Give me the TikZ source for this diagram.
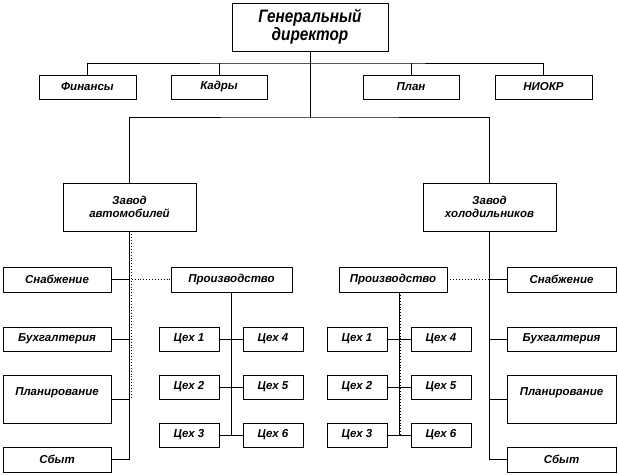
\documentclass[tikz,border=0pt]{standalone}
\usepackage{fontspec}
\setmainfont{Liberation Sans}
\newfontfamily\narrowfont[FakeStretch=0.85]{Liberation Sans}
\begin{document}
\begin{tikzpicture}[x=1pt,y=-1pt,line width=0.9pt,
  bx/.style={draw=black,line width=0.9pt,fill=white,inner sep=0pt,align=center,
    font=\bfseries\itshape\fontsize{11.5}{13}\selectfont},
  dots/.style={dotted,line width=0.9pt}]
\useasboundingbox (0,0) rectangle (618,474);
% top level
\node[bx,minimum width=156,minimum height=48,font=\narrowfont\bfseries\itshape\fontsize{18}{16}\selectfont] (gd) at (310,27) {Генеральный\\директор};
\node[bx,minimum width=97,minimum height=24] (fin) at (87.5,87) {Финансы};
\node[bx,minimum width=96,minimum height=24] (kad) at (219,87) {Кадры};
\node[bx,minimum width=96,minimum height=24] (pln) at (411,87) {План};
\node[bx,minimum width=97,minimum height=24] (nio) at (543.5,87) {НИОКР};
\node[bx,minimum width=133,minimum height=48] (za) at (129.5,207) {Завод\\автомобилей};
\node[bx,minimum width=133,minimum height=48] (zh) at (489.5,207) {Завод\\холодильников};
% left plant
\node[bx,minimum width=108,minimum height=25] (snabL) at (57,279.5) {Снабжение};
\node[bx,minimum width=108,minimum height=24] (buhL) at (57,339) {Бухгалтерия};
\node[bx,minimum width=108,minimum height=48] (planL) at (57,399) {Планирование\\[1pt]\mbox{}};
\node[bx,minimum width=108,minimum height=25] (sbytL) at (57,459.5) {Сбыт};
\node[bx,minimum width=121,minimum height=25] (prodL) at (231.5,279.5) {Производство};
\node[bx,minimum width=60,minimum height=24] (c1L) at (189,339) {Цех 1};
\node[bx,minimum width=60,minimum height=24] (c2L) at (189,387) {Цех 2};
\node[bx,minimum width=60,minimum height=24] (c3L) at (189,435) {Цех 3};
\node[bx,minimum width=60,minimum height=24] (c4L) at (273,339) {Цех 4};
\node[bx,minimum width=60,minimum height=24] (c5L) at (273,387) {Цех 5};
\node[bx,minimum width=60,minimum height=24] (c6L) at (273,435) {Цех 6};
% right plant
\node[bx,minimum width=109,minimum height=25] (snabR) at (561.5,279.5) {Снабжение};
\node[bx,minimum width=109,minimum height=24] (buhR) at (561.5,339) {Бухгалтерия};
\node[bx,minimum width=109,minimum height=48] (planR) at (561.5,399) {Планирование\\[1pt]\mbox{}};
\node[bx,minimum width=109,minimum height=25] (sbytR) at (561.5,459.5) {Сбыт};
\node[bx,minimum width=108,minimum height=25] (prodR) at (393,279.5) {Производство};
\node[bx,minimum width=60,minimum height=24] (c1R) at (357,339) {Цех 1};
\node[bx,minimum width=60,minimum height=24] (c2R) at (357,387) {Цех 2};
\node[bx,minimum width=60,minimum height=24] (c3R) at (357,435) {Цех 3};
\node[bx,minimum width=60,minimum height=24] (c4R) at (441,339) {Цех 4};
\node[bx,minimum width=60,minimum height=24] (c5R) at (441,387) {Цех 5};
\node[bx,minimum width=60,minimum height=24] (c6R) at (441,435) {Цех 6};
% bus coordinates
\coordinate (b1) at (310,63);
\coordinate (b2) at (310,117);
\coordinate (tR) at (399,292);
% top connectors
\draw (gd.south) -- (b2);
\draw (fin.north) |- (b1) -| (nio.north);
\draw (kad.north) -- (kad.north |- b1);
\draw (pln.north) -- (pln.north |- b1);
\draw (za.north) |- (b2) -| (zh.north);
% left plant connectors
\draw (za.south) -- (za.south |- sbytL.east) -- (sbytL.east);
\draw (snabL.east) -- (snabL.east -| za.south);
\draw (buhL.east) -- (buhL.east -| za.south);
\draw (planL.east) -- (planL.east -| za.south);
\draw[dots] ([xshift=2]za.south) -- ([xshift=2]za.south |- planL.east);
\draw[dots] (snabL.east) -- (prodL.west);
\draw (prodL.south) -- (prodL.south |- c3L.east);
\draw (c1L.east) -- (c4L.west);
\draw (c2L.east) -- (c5L.west);
\draw (c3L.east) -- (c6L.west);
% right plant connectors
\draw (zh.south) -- (zh.south |- sbytR.west) -- (sbytR.west);
\draw (snabR.west) -- (snabR.west -| zh.south);
\draw (buhR.west) -- (buhR.west -| zh.south);
\draw (planR.west) -- (planR.west -| zh.south);
\draw[dots] (prodR.east) -- (snabR.west);
\draw (tR) -- (tR |- c3R.east);
\draw[dots] ([xshift=1.5]tR) -- ([xshift=1.5]tR |- c3R.east);
\draw (c1R.east) -- (c4R.west);
\draw (c2R.east) -- (c5R.west);
\draw (c3R.east) -- (c6R.west);
\end{tikzpicture}
\end{document}
